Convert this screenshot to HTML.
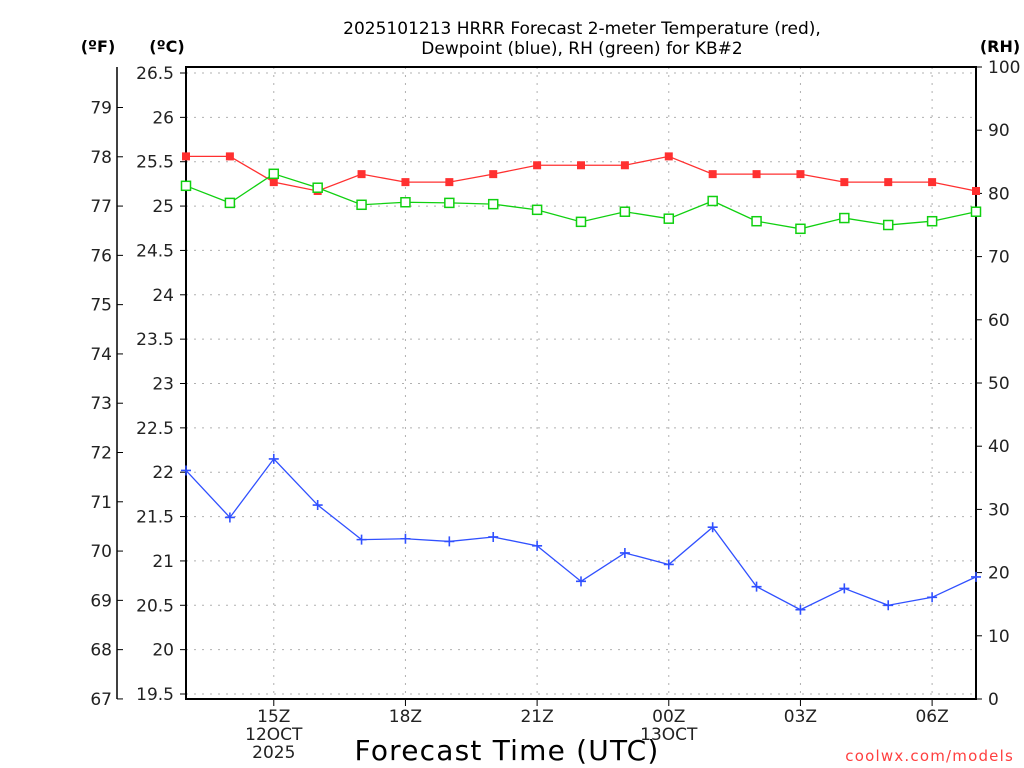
<!DOCTYPE html>
<html><head><meta charset="utf-8"><style>
html,body{margin:0;padding:0;background:#fff;}
svg{display:block;font-family:"DejaVu Sans","Liberation Sans",sans-serif;}
</style></head><body>
<svg id="chart" width="1024" height="768" viewBox="0 0 1024 768" xmlns="http://www.w3.org/2000/svg">
<text x="582" y="34" font-size="17" text-anchor="middle" fill="#000">2025101213 HRRR Forecast 2-meter Temperature (red),</text>
<text x="582" y="54" font-size="17" text-anchor="middle" fill="#000">Dewpoint (blue), RH (green) for KB#2</text>
<text x="98" y="52" font-size="16" font-weight="bold" text-anchor="middle">(ºF)</text>
<text x="167" y="52" font-size="16" font-weight="bold" text-anchor="middle">(ºC)</text>
<text x="1000" y="52" font-size="16" font-weight="bold" text-anchor="middle">(RH)</text>
<text x="507" y="760" font-size="28" letter-spacing="1.2" text-anchor="middle">Forecast Time (UTC)</text>
<text x="1014" y="761" font-size="15" fill="#ff4040" text-anchor="end" letter-spacing="1.2">coolwx.com/models</text>
<g id="grid"></g><g id="axes"></g><g id="series"></g>
</svg>
<script>
const hours = [13,14,15,16,17,18,19,20,21,22,23,24,25,26,27,28,29,30,31];
const tempC = [25.56,25.56,25.27,25.17,25.36,25.27,25.27,25.36,25.46,25.46,25.46,25.56,25.36,25.36,25.36,25.27,25.27,25.27,25.17];
const dewC = [22.02,21.49,22.15,21.63,21.24,21.25,21.22,21.27,21.17,20.77,21.09,20.96,21.38,20.71,20.45,20.69,20.50,20.59,20.82];
const rh = [81.2,78.5,83.1,80.9,78.2,78.6,78.5,78.3,77.4,75.5,77.1,76.0,78.8,75.6,74.4,76.1,75.0,75.6,77.1];
const cTicks = [19.5,20,20.5,21,21.5,22,22.5,23,23.5,24,24.5,25,25.5,26,26.5];
const fTicks = [67,68,69,70,71,72,73,74,75,76,77,78,79];
const rhTicks = [0,10,20,30,40,50,60,70,80,90,100];
const xTickHours = [15,18,21,24,27,30];
const xTickLabels = ["15Z","18Z","21Z","00Z","03Z","06Z"];

const NS="http://www.w3.org/2000/svg";
const L=186,R=976,T=67,B=699;
const xs=h=>L+(h-13)*(R-L)/18;
const yC=c=>73+(26.5-c)*(694-73)/7;
const yF=f=>yC((f-32)*5/9);
const yRH=v=>B-v*(B-T)/100;
function mk(tag,attrs,parent,text){const e=document.createElementNS(NS,tag);for(const k in attrs)e.setAttribute(k,attrs[k]);if(text!==undefined)e.textContent=text;document.getElementById(parent).appendChild(e);return e;}
cTicks.forEach(c=>{const e=mk('line',{x1:L,x2:R,y1:yC(c),y2:yC(c),stroke:'#b0b0b0','stroke-dasharray':'2,6'},'grid');

});
xTickHours.forEach(h=>{const e=mk('line',{x1:xs(h),x2:xs(h),y1:T,y2:B,stroke:'#b0b0b0','stroke-dasharray':'2,6'},'grid');

});
let f=mk('rect',{x:L,y:T,width:R-L,height:B-T,fill:'none',stroke:'#000','stroke-width':2},'axes');


let fl=mk('line',{x1:117,x2:117,y1:67,y2:699,stroke:'#000','stroke-width':1.5},'axes');


cTicks.forEach(c=>{const y=yC(c);mk('line',{x1:L-6,x2:L,y1:y,y2:y,stroke:'#000'},'axes');
const t=mk('text',{x:L-12,y:y+6,'font-size':17,'text-anchor':'end',fill:'#222'},'axes',String(c));

});
fTicks.forEach(v=>{const y=yF(v);mk('line',{x1:117,x2:123,y1:y,y2:y,stroke:'#000'},'axes');
const t=mk('text',{x:112,y:y+6,'font-size':17,'text-anchor':'end',fill:'#222'},'axes',String(v));

});
rhTicks.forEach(v=>{const y=yRH(v);mk('line',{x1:R,x2:R+6,y1:y,y2:y,stroke:'#000'},'axes');
const t=mk('text',{x:R+12,y:y+6,'font-size':17,'text-anchor':'start',fill:'#222'},'axes',String(v));

});
xTickHours.forEach((h,i)=>{const x=xs(h);mk('line',{x1:x,x2:x,y1:B,y2:B+7,stroke:'#000'},'axes');
const t=mk('text',{x:x,y:722,'font-size':17,'text-anchor':'middle',fill:'#222'},'axes',xTickLabels[i]);

});
[[15,740,'12OCT'],[15,758,'2025'],[24,740,'13OCT']].forEach(d=>{const t=mk('text',{x:xs(d[0]),y:d[1],'font-size':17,'text-anchor':'middle',fill:'#222'},'axes',d[2]);

});
function line(vals,yf,color,name){const p=mk('polyline',{points:vals.map((v,i)=>xs(hours[i])+','+yf(v)).join(' '),fill:'none',stroke:color,'stroke-width':1.3},'series');

}
line(tempC,yC,'#ff3030','temperature-line');
line(rh,yRH,'#10d010','rh-line');
line(dewC,yC,'#3050ff','dewpoint-line');
tempC.forEach((v,i)=>{const m=mk('rect',{x:xs(hours[i])-4,y:yC(v)-4,width:8,height:8,fill:'#ff3030'},'series');

});
rh.forEach((v,i)=>{const m=mk('rect',{x:xs(hours[i])-4.5,y:yRH(v)-4.5,width:9,height:9,fill:'#fff',stroke:'#10d010','stroke-width':1.5},'series');

});
dewC.forEach((v,i)=>{const x=xs(hours[i]),y=yC(v);const m=mk('path',{d:`M${x-5},${y}H${x+5}M${x},${y-5}V${y+5}`,stroke:'#3050ff','stroke-width':1.6},'series');

});
</script>
</body></html>
